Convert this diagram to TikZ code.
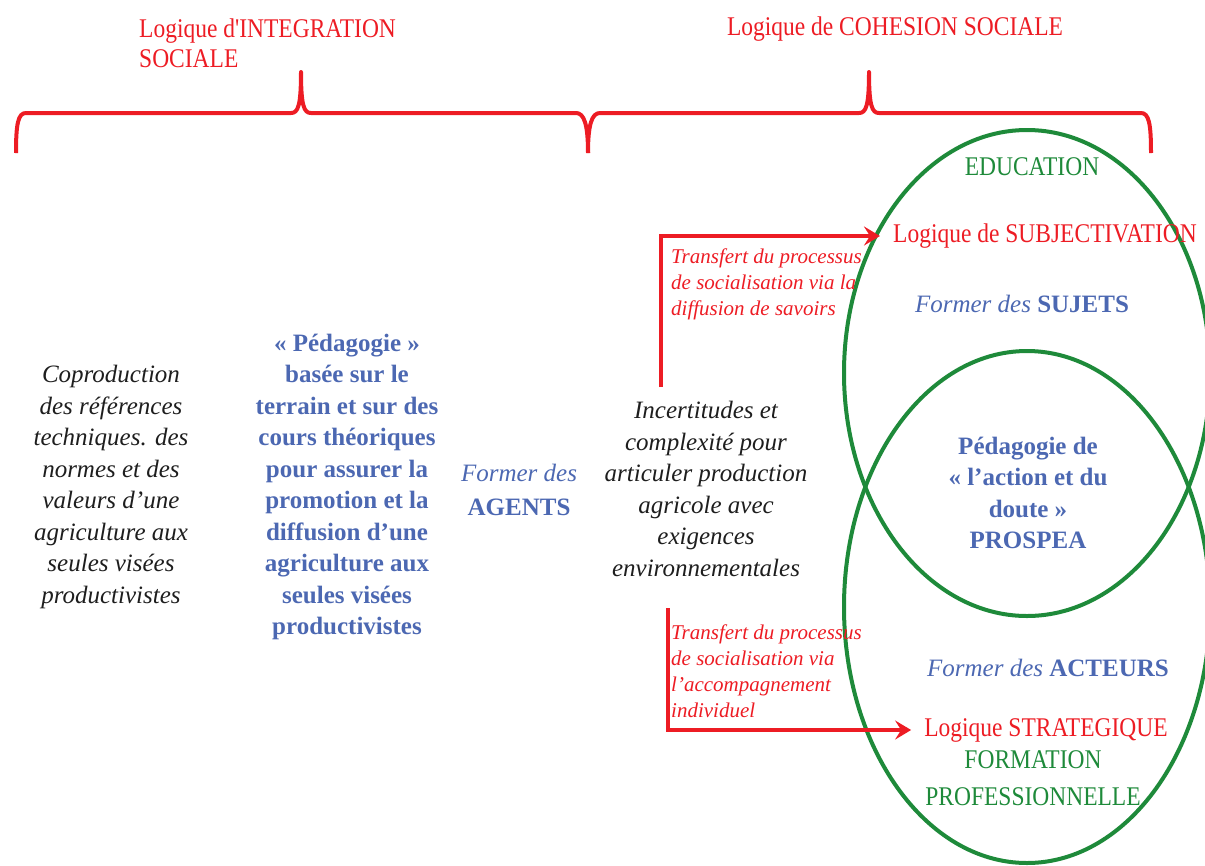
\documentclass[tikz,border=0pt]{standalone}
\usepackage{fontspec}
\setmainfont{Liberation Serif}
\newfontfamily\narrowserif{Liberation Serif}[FakeStretch=0.87]
\usetikzlibrary{arrows.meta}
\definecolor{dred}{RGB}{237,28,36}
\definecolor{dblue}{RGB}{76,104,178}
\definecolor{dgreen}{RGB}{30,138,58}
\definecolor{ink}{RGB}{30,30,30}

\tikzset{
  brace/.style={draw=dred, line width=4pt, line join=round},
  ring/.style={draw=dgreen, line width=4pt},
  flow/.style={draw=dred, line width=4.5pt, shorten >=12pt,
    -{Stealth[length=16pt,width=19pt,inset=6pt]}},
  redtitle/.style={text=dred, inner sep=1pt, align=left,
    font=\narrowserif\fontsize{27}{30}\selectfont},
  greentitle/.style={text=dgreen, inner sep=1pt, align=center,
    font=\narrowserif\fontsize{27}{37}\selectfont},
  blackit/.style={text=ink, inner sep=1pt, align=center,
    font=\itshape\fontsize{25}{31.5}\selectfont},
  bluebold/.style={text=dblue, inner sep=1pt, align=center,
    font=\bfseries\fontsize{25}{31.5}\selectfont},
  bluemix/.style={text=dblue, inner sep=1pt, align=center,
    font=\fontsize{25}{34}\selectfont},
  smallred/.style={text=dred, inner sep=1pt, align=left, anchor=west,
    font=\itshape\fontsize{21}{26}\selectfont},
}

\begin{document}
\begin{tikzpicture}[x=1pt,y=-1pt]
\useasboundingbox (0,0) rectangle (1205,865);

% the two braces grouping the columns
\draw[brace] (16,153) .. controls (16,124) and (18,113) .. (26,113)
  -- (291,113) .. controls (298,113) and (301,106) .. (301,72)
  .. controls (301,106) and (304,113) .. (311,113)
  -- (576,113) .. controls (584,113) and (588,124) .. (588,153);
\draw[brace] (588,153) .. controls (588,124) and (592,113) .. (600,113)
  -- (859,113) .. controls (866,113) and (869,106) .. (869,72)
  .. controls (869,106) and (872,113) .. (879,113)
  -- (1141,113) .. controls (1149,113) and (1151,124) .. (1151,153);

% the two overlapping fields
\draw[ring] (1027,373) ellipse [x radius=183pt, y radius=243pt];
\draw[ring] (1027,607) ellipse [x radius=183pt, y radius=256pt];

% headings
\node[redtitle, anchor=west] (integ) at (138,43) {Logique d'INTEGRATION\\SOCIALE};
\node[redtitle] (cohes) at (895,29) {Logique de COHESION SOCIALE};

% left columns
\node[blackit] (copro) at (111,487) {Coproduction\\des références\\techniques. des\\normes et des\\valeurs d’une\\agriculture aux\\seules visées\\productivistes};
\node[bluebold] (peda) at (347,487) {« Pédagogie »\\basée sur le\\terrain et sur des\\cours théoriques\\pour assurer la\\promotion et la\\diffusion d’une\\agriculture aux\\seules visées\\productivistes};
\node[bluemix] (agents) at (519,490) {{\itshape Former des}\\\textbf{AGENTS}};
\node[blackit] (incert) at (706,489) {Incertitudes et\\complexité pour\\articuler production\\agricole avec\\exigences\\environnementales};

% inside the fields
\node[greentitle] (edu) at (1032,167) {EDUCATION};
\node[redtitle] (subj) at (1045,236) {Logique de SUBJECTIVATION};
\node[bluemix] (sujets) at (1022,304) {{\itshape Former des} \textbf{SUJETS}};
\node[bluebold] (prospea) at (1028,493) {Pédagogie de\\« l’action et du\\doute »\\PROSPEA};
\node[bluemix] (acteurs) at (1048,668) {{\itshape Former des} \textbf{ACTEURS}};
\node[redtitle] (strat) at (1046,730) {Logique STRATEGIQUE};
\node[greentitle] (fp) at (1033,778) {FORMATION\\PROFESSIONNELLE};

% transfer labels
\node[smallred] (tr1) at (670,284) {Transfert du processus\\de socialisation via la\\diffusion de savoirs};
\node[smallred] (tr2) at (670,671) {Transfert du processus\\de socialisation via\\l’accompagnement\\individuel};

% transfer arrows
\coordinate (s1) at (661,387);
\coordinate (s2) at (668,608);
\draw[flow] (s1) |- (subj.west);
\draw[flow] (s2) |- (strat.west);
\end{tikzpicture}
\end{document}
